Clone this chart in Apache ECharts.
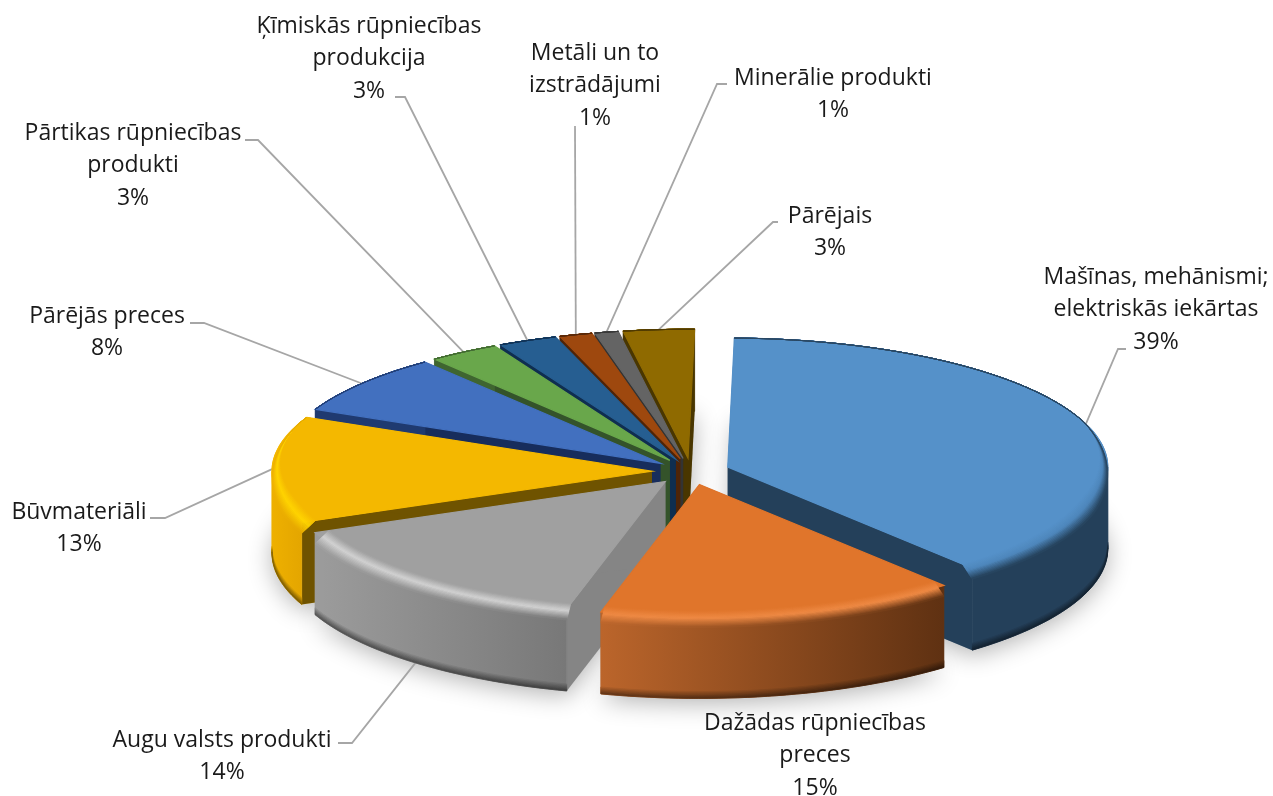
<!DOCTYPE html>
<html>
<head>
<meta charset="utf-8">
<style>html,body{margin:0;padding:0;background:#fff}#chart{width:1273px;height:796px}</style>
<script src="https://cdn.jsdelivr.net/npm/echarts@6/dist/echarts.min.js"></script>
</head>
<body>
<div id="chart"></div>
<script>
// data (labels show the rounded value)
var categories = ['Mašīnas, mehānismi;\nelektriskās iekārtas', 'Dažādas rūpniecības\npreces', 'Augu valsts produkti', 'Būvmateriāli', 'Pārējās preces', 'Pārtikas rūpniecības\nprodukti', 'Ķīmiskās rūpniecības\nprodukcija', 'Metāli un to\nizstrādājumi', 'Minerālie produkti', 'Pārējais'];
var shares = [38.6, 15.3, 14.49, 13.2, 7.5, 3.0, 2.5, 1.4, 1.0, 3.01];

// colours per slice
var topColors = ['#5591c9', '#e0752b', '#a0a0a0', '#f4b800', '#4270bf', '#69a74b', '#265e91', '#9e480e', '#646464', '#8f6a00'];
var hiColors = ['#4d86bb', '#ef8a44', '#d2d2d2', '#ffd400', '#4270bf', '#69a74b', '#265e91', '#9e480e', '#646464', '#8f6a00'];
var wallLeft = ['#24405a', '#bb652b', '#9c9c9c', '#eeb000', '#1f3a70', '#3f6530', '#0f2e50', '#4f2407', '#333333', '#493600'];
var wallRight = ['#24405a', '#5f3112', '#787878', '#e2a400', '#1f3a70', '#3f6530', '#0f2e50', '#4f2407', '#333333', '#493600'];
var faceColors = ['#24405a', '#7a3f16', '#858585', '#6f5300', '#172d5c', '#34532a', '#0f2e50', '#4f2407', '#333333', '#493600'];

// label layout: centre x, first line y, then leader elbow and end (null = no leader)
var labelX = [1156, 815, 222, 79, 107, 133, 369, 595, 833, 830];
var labelY = [261, 707, 724, 496, 300, 117, 10, 37, 62, 200];
var elbows = [[1118, 349, 1126, 349], null, [352, 743, 338, 743], [165, 518, 150, 518], [204, 323, 190, 323], [258, 140, 245, 140], [405, 97, 395, 97], [575, 126, 575, 126], [717, 84, 727, 84], [773, 222, 778, 222]];

// pie geometry
var cx = 691, cy = 471.5, rx = 380, ryBack = 129, ryFront = 132, depth = 82, explode = 39, startDeg = 1;
var bevelR = 0.04, bevelZ = 11, bevelSteps = 14;

var total = shares.reduce(function (a, b) { return a + b; }, 0);
var rad = Math.PI / 180;

function hex(c) { return [parseInt(c.substr(1, 2), 16), parseInt(c.substr(3, 2), 16), parseInt(c.substr(5, 2), 16)]; }
function mix(a, b, t) {
    var x = hex(a), y = hex(b), o = '#';
    for (var i = 0; i < 3; i++) {
        var v = Math.round(x[i] + (y[i] - x[i]) * t).toString(16);
        o += v.length < 2 ? '0' + v : v;
    }
    return o;
}
function hgrad(x0, x1, left, right) {
    return new echarts.graphic.LinearGradient(x0, 0, x1, 0, [{ offset: 0, color: left }, { offset: 1, color: right }], true);
}

function sliceGeo(i) {
    var before = 0;
    for (var k = 0; k < i; k++) before += shares[k];
    var a0 = startDeg + before / total * 360, a1 = a0 + shares[i] / total * 360, mid = (a0 + a1) / 2;
    var ox = cx + explode * Math.sin(mid * rad), oy = cy - explode * Math.cos(mid * rad) * 0.34;
    return { a0: a0, a1: a1, mid: mid, ox: ox, oy: oy };
}
function pt(g, deg, r, z) {
    var c = Math.cos(deg * rad);
    return [g.ox + rx * r * Math.sin(deg * rad), g.oy - (c > 0 ? ryBack : ryFront) * r * c + z];
}
function arcPts(g, a0, a1, r, z, taper) {
    var n = Math.max(4, Math.ceil((a1 - a0) / 1.5)), out = [];
    for (var j = 0; j <= n; j++) {
        var d = a0 + (a1 - a0) * j / n;
        var w = 1;
        if (taper) w = Math.max(0, Math.min(1, (0.35 - Math.cos(d * rad)) / 0.6));
        out.push(pt(g, d, 1 - (1 - r) * w, z * w));
    }
    return out;
}
// a band swept along the arc, cut at the left and right extremes so the polygon never crosses itself
function bandPieces(g, r0, z0, r1, z1, taper) {
    var cuts = [g.a0];
    [90, 270].forEach(function (c) { if (c > g.a0 && c < g.a1) cuts.push(c); });
    cuts.push(g.a1);
    var out = [];
    for (var i = 0; i < cuts.length - 1; i++) {
        out.push(arcPts(g, cuts[i], cuts[i + 1], r0, z0, taper).concat(arcPts(g, cuts[i], cuts[i + 1], r1, z1, taper).reverse()));
    }
    return out;
}

// back slices get painted first
var paintOrder = shares.map(function (s, k) { return k; }).sort(function (p, q) {
    return Math.cos(sliceGeo(q).mid * rad) - Math.cos(sliceGeo(p).mid * rad);
});

function renderSlice(params, api) {
    var i = params.dataIndex, g = sliceGeo(i), kids = [];
    var z = 10 + paintOrder.indexOf(i) * 40;
    var xs = arcPts(g, g.a0, g.a1, 1, 0).map(function (p) { return p[0]; });
    var xMin = Math.min.apply(null, xs), xMax = Math.max.apply(null, xs);
    var wL = wallLeft[i], wR = wallRight[i], top = topColors[i], hi = hiColors[i];
    var apex = [g.ox, g.oy], apexB = [g.ox, g.oy + depth];

    function addBand(geo, z2, r0, z0, r1, z1, taper, fill) {
        bandPieces(geo, r0, z0, r1, z1, taper).forEach(function (pts) {
            kids.push({ type: 'polygon', z2: z2, shape: { points: pts }, style: { fill: fill, stroke: fill, lineWidth: 0.7 } });
        });
    }

    // soft ground shadow
    kids.push({
        type: 'polygon', z2: 1, shape: { points: [apexB].concat(arcPts(g, g.a0, g.a1, 1, depth)) },
        style: { fill: mix(wL, '#ffffff', 0.5), shadowBlur: 24, shadowColor: 'rgba(0,0,0,0.3)', shadowOffsetY: 5 }
    });
    // radial cut faces
    [g.a0, g.a1].forEach(function (d) {
        var a = pt(g, d, 1, 0), b = pt(g, d, 1, depth);
        kids.push({ type: 'polygon', z2: z, shape: { points: [apex, a, b, apexB] }, style: { fill: faceColors[i] } });
    });
    // outer wall
    addBand(g, z + 1, 1, 0, 1, depth, false, hgrad(xMin, xMax, wL, wR));
    // dark lower edge of the wall, front half only
    var front = { a0: Math.max(g.a0, 90), a1: Math.min(g.a1, 270), ox: g.ox, oy: g.oy };
    if (front.a1 > front.a0) {
        for (var b = 0; b < 5; b++) {
            var k = (b + 1) / 5;
            addBand(front, z + 2 + b, 1, depth - 7 + b * 1.4, 1, depth - 7 + (b + 1) * 1.4, false,
                hgrad(xMin, xMax, mix(wL, '#000000', 0.45 * k), mix(wR, '#000000', 0.45 * k)));
        }
    }
    // top surface
    kids.push({ type: 'polygon', z2: z + 8, shape: { points: [apex].concat(arcPts(g, g.a0, g.a1, 1, 0)) }, style: { fill: top, stroke: top, lineWidth: 1.2 } });
    // rounded rim between top and wall
    for (var s = 0; s < bevelSteps; s++) {
        var t0 = s / bevelSteps, t1 = (s + 1) / bevelSteps, t = (t0 + t1) / 2;
        var cL = t < 0.45 ? mix(top, hi, t / 0.45) : mix(hi, wL, (t - 0.45) / 0.55);
        var cR = t < 0.45 ? mix(top, hi, t / 0.45) : mix(hi, wR, (t - 0.45) / 0.55);
        addBand(g, z + 9 + s, 1 - bevelR * (1 - t0), bevelZ * t0, 1 - bevelR * (1 - t1), bevelZ * t1, true, hgrad(xMin, xMax, cL, cR));
    }
    // leader line, starting on the slice edge
    var el = elbows[i];
    if (el) {
        var edge = pt(g, g.mid, 1, Math.cos(g.mid * rad) < -0.1 ? depth : 0);
        kids.push({
            type: 'polyline', z2: 2, shape: { points: [edge, [el[0], el[1]], [el[2], el[3]]] },
            style: { stroke: '#a6a6a6', lineWidth: 1.8, fill: null }
        });
    }
    // label
    kids.push({
        type: 'text', z2: 1000, x: labelX[i], y: labelY[i],
        style: {
            text: categories[i] + '\n' + Math.round(api.value(0)) + '%', align: 'center', verticalAlign: 'top',
            font: '23px "Open Sans"', lineHeight: 32.5, fill: '#1a1a1a'
        }
    });
    return { type: 'group', children: kids };
}

var chart = echarts.init(document.getElementById('chart'), null, { renderer: 'canvas' });
chart.setOption({
    backgroundColor: '#ffffff',
    animation: false,
    series: [{
        type: 'custom',
        coordinateSystem: 'none',
        renderItem: renderSlice,
        data: shares.map(function (v) { return [v]; })
    }]
});
</script>
</body>
</html>
